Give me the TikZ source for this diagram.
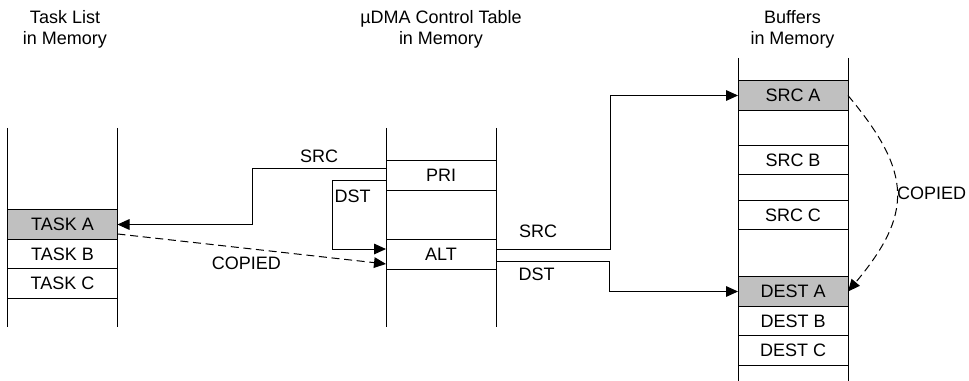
\documentclass[tikz,border=0pt]{standalone}
\usepackage{fontspec}
\setmainfont{Liberation Sans}
\usepackage{tikz}
\usetikzlibrary{arrows.meta, positioning}
\definecolor{cellgray}{HTML}{C0C0C0}

\begin{document}
\begin{tikzpicture}[
    x=0.75pt, y=-0.75pt,
    line width=0.75pt,
    >={Triangle[length=9pt, width=8pt]},
    font=\fontsize{13.5}{15.75}\selectfont,
    cellbox/.style={rectangle, draw, fill=white, minimum width=82.5pt, minimum height=22.2pt, inner sep=0pt, outer sep=0pt},
    usedbox/.style={cellbox, fill=cellgray},
    headtext/.style={align=center, inner sep=0pt},
    copyline/.style={->, dash pattern=on 6pt off 3.5pt},
]
\useasboundingbox (0,0) rectangle (969,381);

% Column headings
\node[headtext] (taskHead) at (65,29) {Task List\\in Memory};
\node[headtext] (ctrlHead) at (441,29) {µDMA Control Table\\in Memory};
\node[headtext] (bufHead) at (792.5,29) {Buffers\\in Memory};

% Task list
\node[usedbox] (taskA) at (62.5,224.5) {TASK A};
\node[cellbox, below=0pt of taskA] (taskB) {TASK B};
\node[cellbox, below=0pt of taskB] (taskC) {TASK C};

% Control table
\node[cellbox] (pri) at (441,175.5) {PRI};
\node[cellbox] (alt) at (441,254.75) {ALT};

% Buffers
\node[usedbox] (srcA) at (793,95.5) {SRC A};
\node[cellbox] (srcB) at (793,160) {SRC B};
\node[cellbox] (srcC) at (793,215) {SRC C};
\node[usedbox] (destA) at (793,291.5) {DEST A};
\node[cellbox, below=0pt of destA] (destB) {DEST B};
\node[cellbox, below=0pt of destB] (destC) {DEST C};

% Memory column rails
\foreach \col/\top/\bot in {taskA/128/327, pri/128/327, srcA/58/381} {
  \draw (\col.west |- 0,\top) -- (\col.west |- 0,\bot);
  \draw (\col.east |- 0,\top) -- (\col.east |- 0,\bot);
}

% Pointers out of PRI
\draw[->] ([yshift=5.6pt]pri.west) -- node[above] {SRC} ++(-134,0) |- (taskA.east);
\draw[->] ([yshift=-4.1pt]pri.west) -- ++(-54,0) node[anchor=north west, inner sep=1.5pt, yshift=-5pt] {DST} |- ([yshift=4.3pt]alt.west);

% Task copied into ALT
\draw[copyline] ([yshift=-7.1pt]taskA.east) -- node[pos=0.48, below=3pt] {COPIED} ([yshift=-6.9pt]alt.west);

% Pointers out of ALT
\draw[->] ([yshift=4.3pt]alt.east) -- node[pos=0.37, above=5pt] {SRC} ++(114,0) |- (srcA.west);
\draw[->] ([yshift=-5.4pt]alt.east) -- node[pos=0.36, below=1pt] {DST} ++(113,0) |- (destA.west);

% Buffer copied
\draw[copyline] (srcA.east) to[out=-50, in=50, looseness=1.32] node[right, inner sep=0pt] {COPIED} (destA.east);

\end{tikzpicture}
\end{document}
